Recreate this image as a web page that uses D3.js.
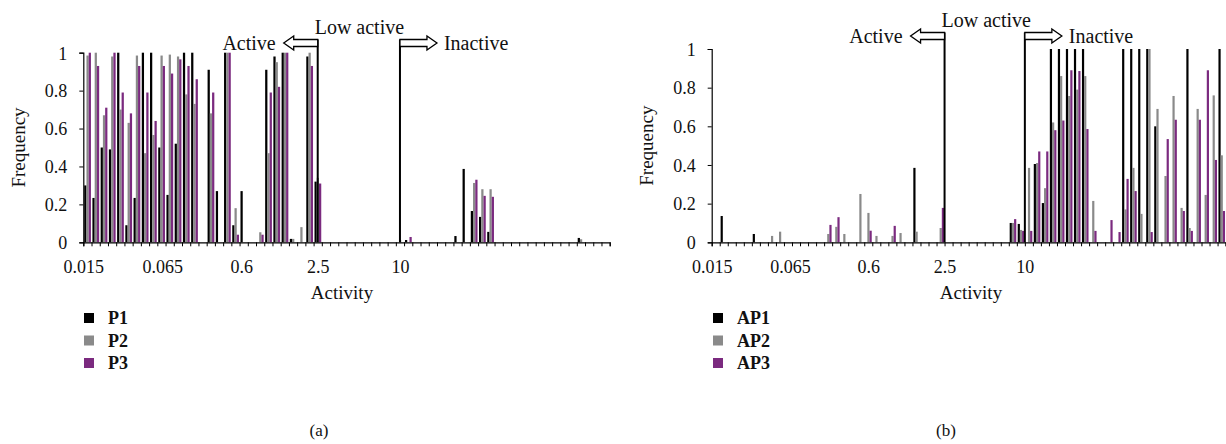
<!DOCTYPE html>
<html><head><meta charset="utf-8">
<script src="https://cdn.jsdelivr.net/npm/d3@7"></script>
<style>
body{margin:0;background:#fff}
svg{display:block}
text{font-family:"Liberation Serif","Times New Roman",serif;fill:#111}
</style>
</head><body>
<svg id="c" width="1226" height="444"></svg>
<script>
// ---------- data ----------
const categories = Array.from({length: 64}, (_, i) => i);
const yTickValues = [0, 0.2, 0.4, 0.6, 0.8, 1];
const yTickLabels = ["0", "0.2", "0.4", "0.6", "0.8", "1"];
const xTickLabels = ["0.015", "0.065", "0.6", "2.5", "10"];
// category coordinate at which each activity label sits
const xTickAtA = [0, 9.6, 19.2, 28.5, 38.5];
const xTickAtB = [0, 9.75, 19.5, 29, 39];

const seriesNamesA = ["P1", "P2", "P3"];
const seriesNamesB = ["AP1", "AP2", "AP3"];

const p1 = [.30,.234,.50,.49,1,.09,.234,1,1,.50, .25,.52,1,1,0,.91,.27,1,.09,.27, 0,0,.91,.98,1,.018,0,.98,.32,0, 0,0,0,0,0,0,0,0,0,.012, 0,0,0,0,0,.033,.387,.165,.134,.055, 0,0,0,0,0,0,0,0,0,0, .023,0,0,0];
const p2 = [.985,1,.67,.98,.70,.63,.985,.47,.566,.985, .99,.98,.78,.73,0,.68,0,1,.18,0, 0,.053,.47,.95,1,.018,.08,1,.34,0, 0,0,0,0,0,0,0,0,.012,0, 0,0,0,0,0,0,0,.313,.28,.28, 0,0,0,0,0,0,0,0,0,0, .016,0,0,0];
const p3 = [1,.93,.71,1,.79,.68,.93,.79,.64,.93, .89,.965,.93,.86,0,.79,0,1,.04,0, 0,.04,.79,.82,1,0,0,.93,.31,0, 0,0,0,0,0,0,0,0,0,.028, 0,0,0,0,0,0,0,.33,.245,.24, 0,0,0,0,0,0,0,0,0,0, 0,0,0,0];

const ap1 = [0,.136,0,0,0,.043,0,0,0,0, 0,0,0,0,0,0,0,0,0,0, 0,0,0,0,0,.385,0,0,0,0, 0,0,0,0,0,0,0,.10,.095,0, .405,.203,1,1,1,1,1,0,0,0, 0,1,1,1,1,.60,0,0,0,1, 0,0,0,1];
const ap2 = [0,0,0,0,0,0,0,.033,.055,0, 0,0,0,0,.043,.08,.043,0,.25,.152, .033,0,.033,.048,0,.055,0,0,.074,0, 0,0,0,0,0,0,0,.10,.064,.385, .41,.28,.62,.86,.757,.79,.86,.214,0,0, 0,.17,.385,.147,1,.69,.343,.757,.178,.074, .69,.245,.76,.45];
const ap3 = [0,0,0,0,0,0,0,0,0,0, 0,0,0,0,.09,.13,0,0,0,.06, 0,0,.085,0,0,0,0,0,.178,0, 0,0,0,0,0,0,0,.12,.059,.059, .47,.47,.58,.63,.89,.886,.586,.059,0,.115, .053,.328,.265,0,.053,0,.534,.634,.162,.059, .634,.89,.426,.162];

// ---------- drawing ----------
const colors = ["#000000", "#8a8a8a", "#7b2a7f"];
const svg = d3.select("#c");

function hollowArrow(g, x0, tipX, cy) {
  const dir = Math.sign(tipX - x0);
  const h = 7, Hh = 14, headLen = 10;
  const hx = tipX - dir * headLen;
  const pts = [[x0, cy - h/2], [hx, cy - h/2], [hx, cy - Hh/2], [tipX, cy], [hx, cy + Hh/2], [hx, cy + h/2], [x0, cy + h/2]];
  g.append("path").attr("d", d3.line()(pts) + "Z")
    .attr("fill", "#fff").attr("stroke", "#000").attr("stroke-width", 1.3).attr("stroke-linejoin", "miter");
}

function panel(cfg) {
  const g = svg.append("g");
  const x = d3.scaleBand().domain(categories).range([cfg.x0, cfg.x1]).padding(0);
  const xs = d3.scaleBand().domain([0, 1, 2]).range([x.bandwidth() * 0.11, x.bandwidth() * 0.93]);
  const xc = d3.scaleLinear().domain([0, categories.length]).range([cfg.x0, cfg.x1]);
  const y = d3.scaleLinear().domain([0, 1]).range([cfg.y0, cfg.y1]);

  cfg.series.forEach((vals, si) => {
    g.append("g").selectAll("rect").data(vals).join("rect")
      .attr("x", (d, i) => x(categories[i]) + xs(si))
      .attr("width", xs.bandwidth())
      .attr("y", d => y(d))
      .attr("height", d => y(0) - y(d))
      .attr("fill", colors[si]);
  });

  const ya = g.append("g").attr("transform", `translate(${cfg.x0},0)`)
    .call(d3.axisLeft(y).tickValues(yTickValues).tickSize(4).tickPadding(12)
      .tickFormat((d, i) => yTickLabels[i]));
  ya.selectAll("text").style("font-size", "18px").attr("dy", "0.35em");

  const xa = g.append("g").attr("transform", `translate(0,${cfg.y0})`)
    .call(d3.axisBottom(xc).tickValues(d3.range(0, categories.length + 1)).tickSize(4).tickFormat(""));
  const xl = g.append("g").attr("transform", `translate(0,${cfg.y0})`)
    .call(d3.axisBottom(xc).tickValues(cfg.tickAt).tickSize(0).tickPadding(18)
      .tickFormat((d, i) => xTickLabels[i]));
  xl.select(".domain").remove();
  xl.selectAll("text").style("font-size", "18px");

  [ya, xa].forEach(a => {
    a.select(".domain").attr("stroke", "#000").attr("stroke-width", 1.2);
    a.selectAll(".tick line").attr("stroke", "#000").attr("stroke-width", 1);
  });
  svg.selectAll(".tick text").attr("fill", "#111").style("font-family", '"Liberation Serif",serif');

  g.append("text").attr("transform", `translate(${cfg.ylabX},${(cfg.y0 + cfg.y1) / 2}) rotate(-90)`)
    .attr("text-anchor", "middle").style("font-size", "19px").text("Frequency");
  g.append("text").attr("x", cfg.xlabX).attr("y", cfg.xlabY)
    .attr("text-anchor", "middle").style("font-size", "19px").text("Activity");

  const lx1 = xc(cfg.tickAt[3]), lx2 = xc(cfg.tickAt[4]);
  const top = cfg.arrowY - 3.5;
  [lx1, lx2].forEach(lx => {
    g.append("line").attr("x1", lx).attr("x2", lx).attr("y1", top).attr("y2", cfg.y0)
      .attr("stroke", "#000").attr("stroke-width", 2);
  });
  hollowArrow(g, lx1, lx1 - 34, cfg.arrowY);
  hollowArrow(g, lx2, lx2 + 37, cfg.arrowY);
  g.append("text").attr("x", lx1 - 42).attr("y", cfg.arrowY).attr("dy", "0.35em")
    .attr("text-anchor", "end").style("font-size", "20px").text("Active");
  g.append("text").attr("x", lx2 + 44).attr("y", cfg.arrowY).attr("dy", "0.35em")
    .style("font-size", "20px").text("Inactive");
  g.append("text").attr("x", lx1 - 3).attr("y", cfg.arrowY - 16).attr("dy", "0.35em")
    .style("font-size", "20px").text("Low active");

  const lg = g.append("g");
  cfg.names.forEach((n, i) => {
    const yy = cfg.legY + i * 22.5;
    lg.append("rect").attr("x", cfg.legX).attr("y", yy - 5).attr("width", 10).attr("height", 10).attr("fill", colors[i]);
    lg.append("text").attr("x", cfg.legX + 24).attr("y", yy).attr("dy", "0.35em")
      .style("font-size", "18px").style("font-weight", "bold").text(n);
  });

  g.append("text").attr("x", cfg.capX).attr("y", 430).attr("dy", "0.35em")
    .attr("text-anchor", "middle").style("font-size", "17px").text(cfg.caption);
}

panel({x0: 83.3, x1: 609.7, y0: 242.3, y1: 52.7, series: [p1, p2, p3], names: seriesNamesA,
  tickAt: xTickAtA, ylabX: 25, xlabX: 342, xlabY: 299, arrowY: 43, legX: 84, legY: 318, capX: 319, caption: "(a)"});
panel({x0: 711.7, x1: 1225.6, y0: 242.3, y1: 49, series: [ap1, ap2, ap3], names: seriesNamesB,
  tickAt: xTickAtB, ylabX: 653, xlabX: 971, xlabY: 299, arrowY: 36, legX: 713, legY: 318, capX: 946, caption: "(b)"});
</script>
</body></html>
